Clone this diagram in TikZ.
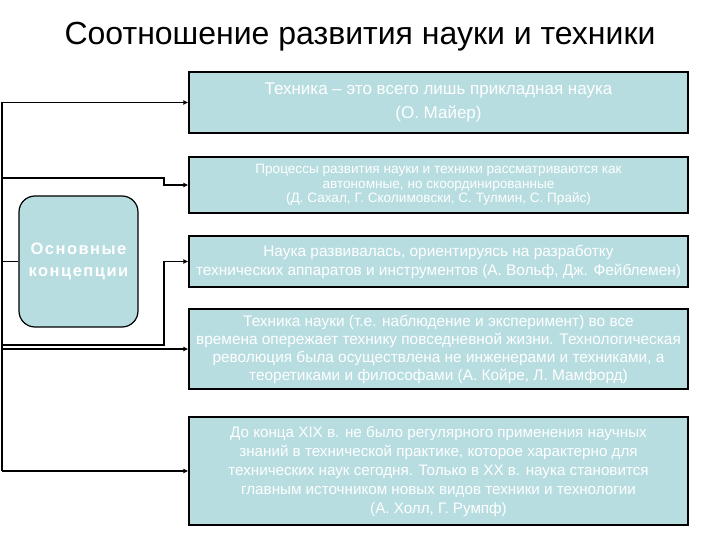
\documentclass[tikz,border=0pt]{standalone}
\usepackage{fontspec}
\setmainfont{Liberation Sans}
\newfontfamily\widebold[LetterSpace=9]{Liberation Sans}
\usetikzlibrary{arrows.meta}
\definecolor{boxfill}{RGB}{183,221,224}
\tikzset{
  infobox/.style={draw=black, line width=1.3pt, fill=boxfill, text=white, align=center, minimum width=499pt, inner sep=0pt},
  conn/.style={line width=1.2pt, -{Latex[length=5pt,width=5pt]}},
  plainline/.style={line width=1.2pt}
}
\begin{document}
\begin{tikzpicture}[x=1pt,y=-1pt]
\useasboundingbox (0,0) rectangle (720,540);
\node[font=\fontsize{32}{36}\selectfont] (title) at (360,37) {Соотношение развития науки и техники};
\node[infobox, minimum height=61pt, font=\fontsize{17}{24}\selectfont] (b1) at (438.5,102.5) {Техника – это всего лишь прикладная наука\\(О. Майер)};
\node[infobox, minimum height=56pt, font=\fontsize{13.6}{14.5}\selectfont] (b2) at (438.5,185) {Процессы развития науки и техники рассматриваются как\\автономные, но скоординированные\\(Д. Сахал, Г. Сколимовски, С. Тулмин, С. Прайс)};
\node[infobox, minimum height=51pt, font=\fontsize{15.4}{19}\selectfont] (b3) at (438.5,261.5) {Наука развивалась, ориентируясь на разработку\\технических аппаратов и инструментов (А. Вольф, Дж. Фейблемен)};
\node[infobox, minimum height=80pt, font=\fontsize{15.4}{18}\selectfont] (b4) at (438.5,349) {Техника науки (т.е. наблюдение и эксперимент) во все\\времена опережает технику повседневной жизни. Технологическая\\революция была осуществлена не инженерами и техниками, а\\теоретиками и философами (А. Койре, Л. Мамфорд)};
\node[infobox, minimum height=108pt, font=\fontsize{15.2}{19}\selectfont] (b5) at (438.5,471) {До конца XIX в. не было регулярного применения научных\\знаний в технической практике, которое характерно для\\технических наук сегодня. Только в ХХ в. наука становится\\главным источником новых видов техники и технологии\\(А. Холл, Г. Румпф)};
\node[draw=black, line width=1.2pt, fill=boxfill, text=white, rounded corners=16pt, minimum width=119pt, minimum height=131pt, align=center, font=\widebold\bfseries\fontsize{16.5}{22}\selectfont] (c) at (78.5,261.5) {Основные\\концепции};
\coordinate (top) at (2,102.5);
\coordinate (bot) at (2,471);
\coordinate (s2) at (2,178);
\coordinate (k2) at (164,178);
\coordinate (s3) at (2,345);
\coordinate (k3) at (164,345);
\coordinate (sc) at (2,261.5);
\draw[plainline] (top) -- (bot);
\draw[conn] (top) -- (b1.west);
\draw[conn] (s2) -- (k2) |- (b2.west);
\draw[conn] (s3) -- (k3) |- (b3.west);
\draw[plainline] (sc) -- (c.west);
\draw[conn] (b4.west -| top) -- (b4.west);
\draw[conn] (bot) -- (b5.west);
\end{tikzpicture}
\end{document}
